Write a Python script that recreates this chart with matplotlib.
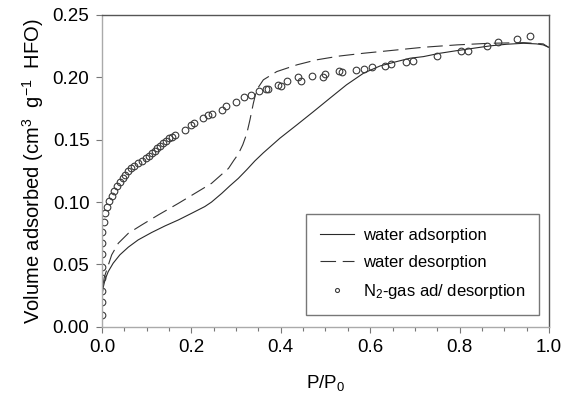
import matplotlib
matplotlib.use("Agg")
import matplotlib.pyplot as plt
from matplotlib.ticker import MultipleLocator

plt.rcParams['font.family'] = ['Liberation Sans', 'DejaVu Sans']
plt.rcParams['mathtext.fontset'] = 'custom'
plt.rcParams['mathtext.rm'] = 'Liberation Sans'
plt.rcParams['mathtext.it'] = 'Liberation Sans'

# water adsorption (solid)
ads_x = [0.0, 0.003, 0.0067, 0.014, 0.025, 0.040, 0.059, 0.081, 0.111, 0.141, 0.171, 0.201,
         0.230, 0.245, 0.268, 0.286, 0.305, 0.324, 0.342, 0.361, 0.398, 0.436, 0.473, 0.510,
         0.547, 0.585, 0.622, 0.659, 0.689, 0.719, 0.756, 0.794, 0.831, 0.868, 0.905, 0.943,
         0.972, 0.987, 0.999]
ads_y = [0.025, 0.032, 0.0377, 0.0443, 0.051, 0.0577, 0.0639, 0.0697, 0.0756, 0.0809, 0.0857, 0.0911,
         0.0964, 0.100, 0.107, 0.113, 0.119, 0.126, 0.133, 0.1395, 0.1512, 0.1619, 0.1725, 0.1833,
         0.194, 0.2033, 0.2091, 0.2126, 0.2153, 0.2166, 0.2193, 0.2214, 0.2233, 0.2252, 0.2265, 0.2273,
         0.2268, 0.226, 0.2241]

# water desorption (dashed)
des_x = [0.002, 0.005, 0.0105, 0.0217, 0.0365, 0.059, 0.089, 0.126, 0.171, 0.208, 0.245, 0.283,
         0.295, 0.305, 0.315, 0.324, 0.331, 0.3385, 0.346, 0.361, 0.391, 0.436, 0.480, 0.532,
         0.585, 0.644, 0.719, 0.794, 0.868, 0.943, 0.987, 0.999]
des_y = [0.033, 0.0395, 0.0455, 0.0577, 0.067, 0.075, 0.0817, 0.0897, 0.099, 0.107, 0.115, 0.127,
         0.1335, 0.1385, 0.146, 0.155, 0.1659, 0.179, 0.190, 0.198, 0.2046, 0.210, 0.214, 0.2171,
         0.2193, 0.2214, 0.2241, 0.226, 0.2273, 0.2278, 0.2268, 0.2241]

# N2-gas ad/desorption (circles)
n2_x = [0.0, 0.0, 0.001, 0.0008, 0.0008, 0.0008, 0.001, 0.001, 0.004, 0.006, 0.011, 0.016, 0.022,
        0.028, 0.034, 0.040, 0.046, 0.052, 0.058, 0.064, 0.072, 0.081, 0.090, 0.098, 0.105, 0.112,
        0.118, 0.124, 0.130, 0.136, 0.143, 0.151, 0.157, 0.164, 0.186, 0.199, 0.205, 0.227, 0.238,
        0.247, 0.269, 0.277, 0.300, 0.317, 0.333, 0.351, 0.368, 0.372, 0.394, 0.401, 0.415, 0.439,
        0.445, 0.469, 0.494, 0.499, 0.530, 0.538, 0.568, 0.586, 0.605, 0.632, 0.647, 0.680, 0.696,
        0.749, 0.803, 0.819, 0.862, 0.887, 0.929, 0.958]
n2_y = [0.0096, 0.0196, 0.029, 0.0389, 0.048, 0.058, 0.067, 0.076, 0.084, 0.091, 0.096, 0.101, 0.105,
        0.109, 0.113, 0.116, 0.119, 0.122, 0.125, 0.127, 0.129, 0.131, 0.133, 0.135, 0.137, 0.139,
        0.141, 0.143, 0.145, 0.147, 0.149, 0.151, 0.152, 0.154, 0.158, 0.162, 0.163, 0.167, 0.170,
        0.171, 0.174, 0.177, 0.180, 0.184, 0.186, 0.189, 0.191, 0.191, 0.194, 0.193, 0.197, 0.200,
        0.197, 0.201, 0.200, 0.203, 0.205, 0.204, 0.206, 0.207, 0.208, 0.209, 0.211, 0.212, 0.213,
        0.217, 0.221, 0.221, 0.225, 0.228, 0.231, 0.233]

fig = plt.figure(figsize=(5.65, 4.04), dpi=100)
ax = fig.add_axes([0.1805, 0.191, 0.7912, 0.772])

ax.plot(ads_x, ads_y, '-', color='#2a2a2a', lw=0.8, label='water adsorption')
ax.plot(des_x, des_y, color='#333333', lw=0.8, dashes=(14, 6), label='water desorption')
ax.plot(n2_x, n2_y, 'o', ms=4.8, mfc='none', mec='#3a3a3a', mew=0.8, ls='none',
        label='N$_{\\mathrm{2}}$-gas ad/ desorption')

ax.set_xlim(0, 1.0)
ax.set_ylim(0, 0.25)
ax.xaxis.set_major_locator(MultipleLocator(0.2))
ax.xaxis.set_minor_locator(MultipleLocator(0.05))
ax.yaxis.set_major_locator(MultipleLocator(0.05))
ax.xaxis.set_major_formatter(plt.FuncFormatter(lambda v, p: f"{v:.1f}"))
ax.yaxis.set_major_formatter(plt.FuncFormatter(lambda v, p: f"{v:.2f}"))
ax.tick_params(axis='both', which='major', labelsize=13.5, length=4, width=0.8,
               color='#777777', direction='out', pad=5)
ax.tick_params(axis='x', which='minor', length=3, width=0.8, color='#777777', direction='out')

for s in ['left', 'bottom']:
    ax.spines[s].set_color('#aaaaaa')
    ax.spines[s].set_linewidth(1.0)
for s in ['top', 'right']:
    ax.spines[s].set_color('#555555')
    ax.spines[s].set_linewidth(1.0)

ax.set_xlabel('P/P$_{\\mathrm{0}}$', fontsize=13.5, labelpad=12)
ax.set_ylabel('Volume adsorbed (cm$^{\\mathrm{3}}$  g$^{\\mathrm{-1}}$  HFO)', fontsize=14.5, labelpad=5)

leg = ax.legend(loc='lower right', bbox_to_anchor=(0.978, 0.0385), fontsize=12,
                frameon=True, fancybox=False, edgecolor='#555555', handlelength=2.0,
                borderpad=0.85, labelspacing=0.7, handletextpad=0.55, borderaxespad=0,
                markerscale=0.6)
leg.get_frame().set_linewidth(1.0)

fig.savefig('out.png', dpi=100)
